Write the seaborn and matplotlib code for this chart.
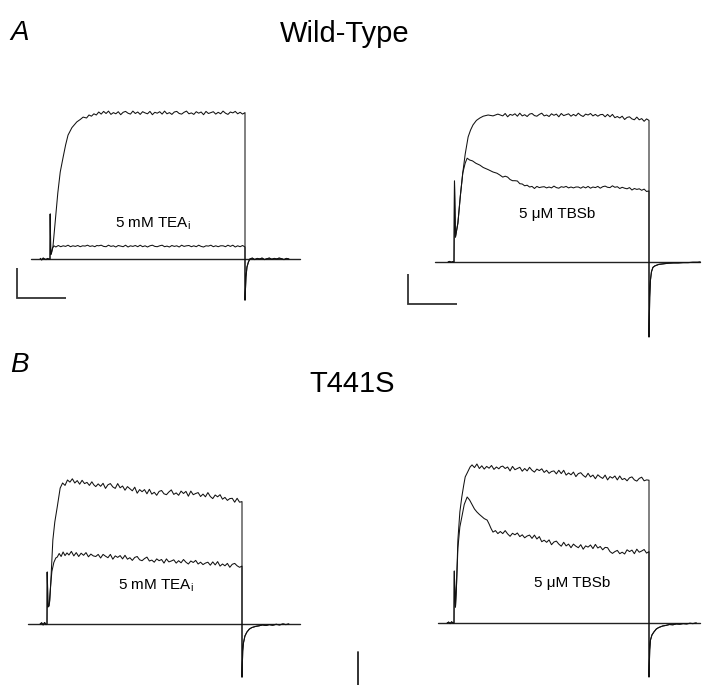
import matplotlib
matplotlib.use("Agg")
import matplotlib.pyplot as plt
import pandas as pd
import seaborn as sns

# ---------------- data (time in ms from pulse onset, current in nA) ----------------
PLAT_T = [100, 105, 110, 115, 120, 125, 130, 135, 140, 145,
          150, 155, 160, 165, 170, 175, 180, 185, 190, 195,
          200, 205, 210, 215, 220, 225, 230, 235, 240, 245,
          250, 255, 260, 265, 270, 275, 280, 285, 290, 295,
          300, 305, 310, 315, 320, 325, 330, 335, 340, 345,
          350, 355, 360, 365, 370, 375, 380, 385, 390, 395,
          400]

# --- A: Wild-Type, 5 mM TEAi ---
wt_pre_a = [(-20, 0.02), (-17, -0.03), (-14, 0.03), (-11, 0.0), (-8, -0.02), (-5, 0.02), (-2, -0.01), (0, 0.0)]
wt_ctrl_rise_a = [(0.5, 1.5), (1.5, 0.15), (3, 0.2), (6, 0.4), (11, 1.3), (16, 2.2), (21, 2.9), (27, 3.4),
                  (32, 3.8), (37, 4.13), (45, 4.38), (55, 4.57), (62, 4.65), (68, 4.73), (75, 4.70),
                  (80, 4.80), (85, 4.76), (90, 4.84), (95, 4.80)]
wt_ctrl_plat_a = [4.90, 4.83, 4.92, 4.85, 4.93, 4.82, 4.88, 4.84, 4.91, 4.81,
                  4.89, 4.92, 4.86, 4.83, 4.93, 4.85, 4.90, 4.82, 4.91, 4.87,
                  4.84, 4.92, 4.81, 4.89, 4.86, 4.91, 4.83, 4.93, 4.84, 4.88,
                  4.82, 4.90, 4.92, 4.85, 4.83, 4.89, 4.93, 4.84, 4.87, 4.82,
                  4.91, 4.86, 4.90, 4.81, 4.92, 4.85, 4.88, 4.91, 4.83, 4.89,
                  4.84, 4.93, 4.86, 4.82, 4.90, 4.87, 4.92, 4.84, 4.89, 4.83,
                  4.88]
wt_tea_rise = [(0.5, 1.5), (1.5, 0.15), (3, 0.2), (5, 0.36), (8, 0.44), (12, 0.40), (17, 0.45), (22, 0.41),
               (27, 0.44), (32, 0.42), (37, 0.46), (42, 0.41), (47, 0.44), (52, 0.42), (57, 0.45),
               (62, 0.41), (67, 0.44), (72, 0.43), (77, 0.46), (82, 0.42), (87, 0.44), (92, 0.41), (96, 0.45)]
wt_tea_plat = [0.44, 0.46, 0.42, 0.41, 0.46, 0.42, 0.44, 0.40, 0.45, 0.43,
               0.41, 0.46, 0.40, 0.44, 0.42, 0.45, 0.41, 0.46, 0.41, 0.44,
               0.40, 0.44, 0.46, 0.42, 0.41, 0.44, 0.46, 0.41, 0.43, 0.40,
               0.45, 0.42, 0.44, 0.40, 0.46, 0.42, 0.44, 0.45, 0.41, 0.44,
               0.41, 0.46, 0.42, 0.40, 0.44, 0.43, 0.46, 0.41, 0.44, 0.41,
               0.44, 0.44, 0.41, 0.46, 0.42, 0.46, 0.40, 0.44, 0.41, 0.45,
               0.40]
wt_tail_a = [(400, -1.37), (402, -0.6), (404, -0.27), (407, -0.1), (410, 0.0), (415, 0.03), (420, -0.02),
             (425, 0.02), (430, 0.0), (435, 0.03), (440, -0.02), (445, 0.01), (450, 0.03), (455, -0.01),
             (460, 0.02), (465, 0.0), (470, 0.03), (475, 0.01), (480, -0.02), (485, 0.02), (490, 0.0)]

# --- A: Wild-Type, 5 uM TBSb ---
wt_pre_b = [(-12, 0.0), (-9, 0.02), (-6, -0.01), (-3, 0.01), (0, 0.0)]
wt_ctrl_rise_b = [(1, 2.7), (3, 0.83), (8, 1.3), (13, 2.2), (18, 2.97), (23, 3.6), (29, 4.17), (34, 4.4),
                  (39, 4.57), (46, 4.72), (53, 4.80), (60, 4.86), (70, 4.90), (80, 4.87), (90, 4.93)]
wt_ctrl_plat_b = [4.87, 4.95, 4.84, 4.92, 4.89, 4.94, 4.86, 4.96, 4.87, 4.91,
                  4.85, 4.93, 4.95, 4.88, 4.86, 4.92, 4.96, 4.87, 4.90, 4.85,
                  4.94, 4.89, 4.93, 4.84, 4.95, 4.88, 4.91, 4.94, 4.86, 4.92,
                  4.87, 4.96, 4.89, 4.85, 4.93, 4.90, 4.95, 4.87, 4.92, 4.86,
                  4.91, 4.92, 4.84, 4.92, 4.84, 4.92, 4.81, 4.85, 4.80, 4.86,
                  4.75, 4.82, 4.84, 4.77, 4.74, 4.83, 4.74, 4.78, 4.69, 4.77,
                  4.72]
wt_tbsb_rise = [(1, 2.7), (3, 0.83), (8, 1.3), (13, 2.2), (18, 2.97), (23, 3.3), (27, 3.46), (32, 3.40),
                (38, 3.37), (45, 3.29), (53, 3.23), (60, 3.15), (70, 3.08), (80, 3.0), (88, 2.96), (94, 2.90)]
wt_tbsb_plat = [2.83, 2.86, 2.83, 2.75, 2.71, 2.71, 2.70, 2.61, 2.60, 2.54,
                2.56, 2.50, 2.52, 2.45, 2.52, 2.48, 2.50, 2.51, 2.47, 2.50,
                2.47, 2.53, 2.48, 2.46, 2.51, 2.49, 2.52, 2.47, 2.50, 2.47,
                2.50, 2.50, 2.46, 2.51, 2.47, 2.52, 2.46, 2.50, 2.48, 2.52,
                2.46, 2.51, 2.53, 2.49, 2.48, 2.54, 2.49, 2.51, 2.45, 2.49,
                2.46, 2.44, 2.48, 2.40, 2.45, 2.42, 2.44, 2.39, 2.43, 2.35,
                2.37]
wt_tail_b = [(400, -2.5), (401.5, -1.17), (403, -0.6), (405, -0.33), (408, -0.18), (412, -0.13),
             (420, -0.08), (430, -0.06), (440, -0.04), (450, -0.03), (460, -0.03), (470, -0.02),
             (480, -0.02), (490, -0.01), (500, -0.01), (505, 0.0)]

# --- B: T441S, 5 mM TEAi ---
mut_pre_a = [(-14, 0.0), (-11, 0.04), (-8, -0.03), (-5, 0.05), (-2, -0.02), (0, 0.0)]
mut_ctrl_rise_a = [(0.5, 1.73), (2, 0.57), (4, 0.6), (6, 0.8), (9, 1.8), (12, 2.8), (16, 3.4), (21, 3.9),
                   (27, 4.53), (32, 4.70), (37, 4.62), (42, 4.80), (47, 4.73), (52, 4.84), (57, 4.70),
                   (62, 4.78), (67, 4.66), (72, 4.79), (77, 4.68), (82, 4.72), (87, 4.62), (92, 4.74), (96, 4.64)]
mut_ctrl_plat_a = [4.58, 4.67, 4.59, 4.69, 4.52, 4.64, 4.68, 4.57, 4.52, 4.68,
                   4.54, 4.60, 4.46, 4.58, 4.51, 4.44, 4.56, 4.36, 4.48, 4.41,
                   4.48, 4.34, 4.49, 4.33, 4.39, 4.29, 4.42, 4.45, 4.34, 4.31,
                   4.40, 4.47, 4.32, 4.37, 4.29, 4.43, 4.35, 4.42, 4.26, 4.43,
                   4.31, 4.35, 4.38, 4.25, 4.33, 4.24, 4.38, 4.25, 4.18, 4.30,
                   4.24, 4.31, 4.16, 4.22, 4.12, 4.18, 4.19, 4.06, 4.19, 4.06,
                   4.08]
mut_tea_rise = [(0.5, 1.73), (2, 0.57), (4, 0.6), (7, 1.2), (10, 1.75), (14, 2.05), (18, 2.2), (21, 2.23),
                (25, 2.35), (29, 2.25), (33, 2.40), (37, 2.28), (41, 2.37), (45, 2.30), (50, 2.42),
                (55, 2.27), (60, 2.38), (65, 2.25), (70, 2.36), (75, 2.29), (80, 2.38), (85, 2.24),
                (90, 2.33), (95, 2.27)]
mut_tea_plat = [2.25, 2.32, 2.20, 2.32, 2.26, 2.21, 2.32, 2.16, 2.27, 2.22,
                2.28, 2.17, 2.29, 2.16, 2.21, 2.12, 2.22, 2.25, 2.14, 2.11,
                2.18, 2.23, 2.10, 2.13, 2.06, 2.17, 2.11, 2.15, 2.03, 2.17,
                2.07, 2.10, 2.14, 2.03, 2.11, 2.04, 2.15, 2.06, 2.00, 2.10,
                2.05, 2.12, 2.00, 2.06, 1.98, 2.03, 2.06, 1.96, 2.07, 1.97,
                2.08, 1.93, 2.00, 1.94, 2.02, 1.89, 1.99, 2.02, 1.94, 1.89,
                1.93]
mut_tail_a = [(400, -1.77), (401.5, -0.9), (403, -0.63), (406, -0.4), (410, -0.27), (415, -0.17),
              (420, -0.12), (428, -0.08), (435, -0.06), (442, -0.03), (449, -0.05), (456, -0.02),
              (463, -0.04), (470, -0.01), (477, -0.03), (484, 0.0), (490, -0.02), (496, 0.0)]

# --- B: T441S, 5 uM TBSb ---
mut_pre_b = [(-14, 0.0), (-11, 0.03), (-8, -0.02), (-5, 0.04), (-2, 0.0), (0, 0.0)]
mut_ctrl_rise_b = [(0.5, 1.73), (3, 0.53), (5, 1.2), (8, 2.77), (12, 3.7), (16, 4.2), (20, 4.6), (23, 4.87),
                   (27, 5.0), (30, 5.1), (33, 5.2), (37, 5.27), (42, 5.18), (47, 5.30), (52, 5.15),
                   (57, 5.24), (62, 5.13), (67, 5.22), (72, 5.16), (77, 5.25), (82, 5.12), (87, 5.20),
                   (92, 5.14), (96, 5.21)]
mut_ctrl_plat_b = [5.23, 5.15, 5.20, 5.07, 5.22, 5.11, 5.15, 5.19, 5.06, 5.15,
                   5.07, 5.19, 5.09, 5.03, 5.13, 5.08, 5.14, 5.02, 5.09, 4.99,
                   5.05, 5.07, 4.97, 5.09, 4.98, 5.09, 4.93, 5.00, 4.94, 5.03,
                   4.88, 4.98, 5.01, 4.92, 4.86, 4.99, 4.87, 4.93, 4.81, 4.94,
                   4.87, 4.82, 4.93, 4.77, 4.88, 4.83, 4.90, 4.77, 4.90, 4.78,
                   4.82, 4.74, 4.84, 4.87, 4.77, 4.73, 4.82, 4.86, 4.74, 4.77,
                   4.76]
mut_tbsb_rise = [(0.5, 1.73), (3, 0.53), (5, 1.2), (8, 2.5), (12, 3.2), (16, 3.53), (21, 3.95), (27, 4.2),
                 (32, 4.1), (37, 3.95), (42, 3.80), (47, 3.70), (52, 3.62), (57, 3.55), (62, 3.48),
                 (68, 3.43), (72, 3.30), (76, 3.15), (80, 3.03), (85, 3.08), (90, 2.98), (95, 3.05)]
mut_tbsb_plat = [2.98, 3.08, 2.97, 2.89, 2.99, 2.94, 3.00, 2.88, 2.94, 2.84,
                 2.90, 2.93, 2.82, 2.93, 2.80, 2.88, 2.71, 2.76, 2.69, 2.77,
                 2.61, 2.70, 2.73, 2.63, 2.56, 2.69, 2.57, 2.63, 2.51, 2.63,
                 2.56, 2.51, 2.61, 2.46, 2.57, 2.53, 2.60, 2.48, 2.62, 2.50,
                 2.55, 2.44, 2.52, 2.51, 2.38, 2.32, 2.38, 2.42, 2.31, 2.36,
                 2.30, 2.44, 2.38, 2.43, 2.31, 2.46, 2.36, 2.40, 2.45, 2.33,
                 2.38]
mut_tail_b = [(400, -1.8), (401.5, -0.9), (403, -0.57), (406, -0.4), (410, -0.3), (415, -0.2),
              (420, -0.15), (428, -0.1), (435, -0.08), (442, -0.05), (449, -0.06), (456, -0.03),
              (463, -0.04), (470, -0.02), (477, -0.03), (484, -0.01), (490, -0.02), (497, 0.0)]

# zero-current reference lines (ms span) and scale bars (100 ms, 1 nA)
zero_span_a1 = [-39, 513]
zero_span_a2 = [-39, 505]
zero_span_b1 = [-39, 519]
zero_span_b2 = [-33, 505]
bar_ms = 100
bar_na = 1.0
bar_a1 = (-68, -1.3)
bar_a2 = (-94, -1.4)
bar_b = (638, -2.03)

labels = ["5 mM TEA$_\\mathregular{i}$", "5 \u03bcM TBSb", "5 mM TEA$_\\mathregular{i}$", "5 \u03bcM TBSb"]
titles = ["Wild-Type", "T441S"]
panel_letters = ["A", "B"]

# ---------------- style ----------------
sns.set_theme(style="white")
plt.rcParams["font.family"] = ["Liberation Sans", "DejaVu Sans"]
plt.rcParams["mathtext.fontset"] = "custom"
plt.rcParams["mathtext.rm"] = "Liberation Sans"
plt.rcParams["mathtext.it"] = "Liberation Sans:italic"
plt.rcParams["text.color"] = "black"

W, H = 706, 685
PX_PER_MS = 195 / 400
PX_PER_NA = 30
fig = plt.figure(figsize=(W / 100, H / 100), dpi=100)
fig.patch.set_facecolor("white")

TRACE_C = "#111111"


def make_axes(x_on, y_base, tmin, tmax, imin, imax):
    left = x_on + tmin * PX_PER_MS
    right = x_on + tmax * PX_PER_MS
    top = y_base - imax * PX_PER_NA
    bottom = y_base - imin * PX_PER_NA
    ax = fig.add_axes([left / W, 1 - bottom / H, (right - left) / W, (bottom - top) / H])
    return ax, (tmin, tmax, imin, imax)


def draw_trace(ax, pre, rise, plat, tail):
    assert len(plat) == len(PLAT_T)
    t = [p[0] for p in pre] + [p[0] for p in rise] + PLAT_T + [p[0] for p in tail]
    cur = [p[1] for p in pre] + [p[1] for p in rise] + plat + [p[1] for p in tail]
    df = pd.DataFrame({"t": t, "I": cur})
    sns.lineplot(data=df, x="t", y="I", ax=ax, sort=False, estimator=None,
                 color=TRACE_C, lw=0.75)


def finish(ax, lims):
    ax.set_xlim(lims[0], lims[1])
    ax.set_ylim(lims[2], lims[3])
    ax.axis("off")


def scalebar(ax, corner, clip=True):
    t0, i0 = corner
    ax.plot([t0, t0, t0 + bar_ms], [i0 + bar_na, i0, i0], color="#333333", lw=1.3,
            solid_joinstyle="miter", solid_capstyle="butt", clip_on=clip)


# Panel A left
ax, lim = make_axes(50, 259, -80, 520, -1.7, 5.4)
ax.plot(zero_span_a1, [0, 0], color="#222222", lw=1.0)
draw_trace(ax, wt_pre_a, wt_ctrl_rise_a, wt_ctrl_plat_a, wt_tail_a)
draw_trace(ax, wt_pre_a, wt_tea_rise, wt_tea_plat, wt_tail_a)
scalebar(ax, bar_a1)
finish(ax, lim)

# Panel A right
ax, lim = make_axes(454, 262, -100, 515, -2.7, 5.3)
ax.plot(zero_span_a2, [0, 0], color="#222222", lw=1.0)
draw_trace(ax, wt_pre_b, wt_ctrl_rise_b, wt_ctrl_plat_b, wt_tail_b)
draw_trace(ax, wt_pre_b, wt_tbsb_rise, wt_tbsb_plat, wt_tail_b)
scalebar(ax, bar_a2)
finish(ax, lim)

# Panel B left
ax, lim = make_axes(47, 624, -45, 650, -2.3, 5.3)
ax.plot(zero_span_b1, [0, 0], color="#222222", lw=1.0)
draw_trace(ax, mut_pre_a, mut_ctrl_rise_a, mut_ctrl_plat_a, mut_tail_a)
draw_trace(ax, mut_pre_a, mut_tea_rise, mut_tea_plat, mut_tail_a)
ax.plot([bar_b[0], bar_b[0]], [bar_b[1], bar_b[1] + 1.1], color="#222222", lw=1.3, clip_on=False)
finish(ax, lim)

# Panel B right
ax, lim = make_axes(454, 623, -45, 515, -2.2, 5.6)
ax.plot(zero_span_b2, [0, 0], color="#222222", lw=1.0)
draw_trace(ax, mut_pre_b, mut_ctrl_rise_b, mut_ctrl_plat_b, mut_tail_b)
draw_trace(ax, mut_pre_b, mut_tbsb_rise, mut_tbsb_plat, mut_tail_b)
finish(ax, lim)


# ---------------- text ----------------
def ftext(x, y, s, **kw):
    fig.text(x / W, 1 - y / H, s, va="baseline", color="black", **kw)


ftext(10, 40, panel_letters[0], fontsize=20, style="italic", ha="left")
ftext(10, 372, panel_letters[1], fontsize=20, style="italic", ha="left")
ftext(345, 42, titles[0], fontsize=21, ha="center")
ftext(352, 392, titles[1], fontsize=21, ha="center")
ftext(115, 228, labels[0], fontsize=11, ha="left")
ftext(519, 218, labels[1], fontsize=11, ha="left")
ftext(118, 590, labels[2], fontsize=11, ha="left")
ftext(534, 587, labels[3], fontsize=11, ha="left")

fig.savefig("out.png", dpi=100, facecolor="white")
